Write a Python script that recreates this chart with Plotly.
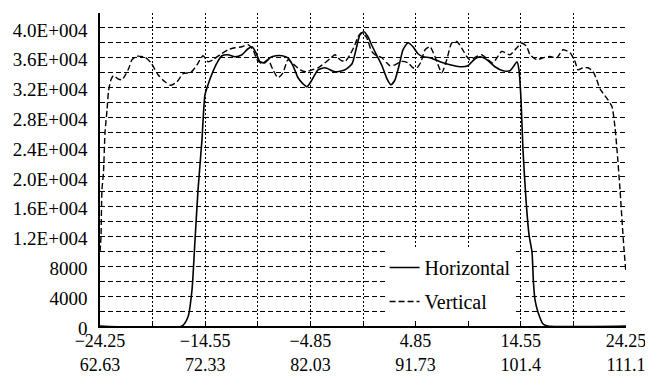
import plotly.graph_objects as go

# ---- data ----
h_x = [-24.25, -16.69, -16.14, -15.77, -15.49, -15.21, -14.85, -14.57, -14.29, -13.92, -13.46,
       -13.00, -12.45, -11.80, -11.16, -10.60, -10.23, -9.87, -9.50, -9.04, -8.58, -8.02, -7.47,
       -6.92, -6.45, -5.99, -5.53, -5.16, -4.70, -4.15, -3.50, -2.58, -1.66, -1.01, -0.65, -0.28,
       0.09, 0.46, 0.83, 1.29, 1.75, 2.21, 2.58, 2.95, 3.32, 3.69, 4.15, 4.61, 5.07, 5.53, 6.18,
       7.10, 8.02, 8.94, 9.68, 10.23, 10.79, 11.43, 12.17, 12.91, 13.55, 13.92, 14.20, 14.38,
       14.57, 14.75, 15.03, 15.31, 15.58, 15.72, 15.86, 16.13, 16.60, 17.06, 24.25]
h_y = [0, 0, 1200, 4800, 11550, 18270, 24980, 31030, 32370, 33850, 35320,
       36260, 36400, 36130, 36400, 37200, 37470, 36670, 35460, 35320, 35990, 36260, 36260,
       35990, 34920, 33310, 32500, 32100, 33040, 34380, 34650, 34110, 34380, 35190, 37070, 39080,
       39490, 38810, 37610, 36260, 34920, 33170, 32370, 33040, 34920, 37070, 38010, 37470, 36530, 36130, 35990,
       35460, 35050, 34790, 34920, 35730, 36130, 35730, 34790, 34250, 34250, 34920, 35460, 34380,
       30350, 23640, 16920, 12220, 9940, 5780, 3490, 1880, 270, 0, 0]

v_x = [-24.25, -24.16, -24.07, -23.93, -23.79, -23.60, -23.47, -23.24, -23.01, -22.59, -22.22,
       -21.85, -21.58, -21.30, -20.84, -20.10, -19.55, -18.90, -18.26, -17.70, -17.15, -16.60,
       -15.86, -15.31, -14.75, -14.29, -13.83, -13.19, -12.45, -11.80, -11.16, -10.60, -10.14,
       -9.77, -9.31, -8.76, -8.30, -7.84, -7.38, -6.92, -6.45, -5.81, -5.26, -4.70, -4.15, -3.50,
       -2.95, -2.58, -2.12, -1.66, -1.20, -0.74, -0.46, -0.12, 0.34, 0.80, 1.11, 1.73, 2.19, 2.49,
       2.95, 3.57, 4.15, 4.61, 4.98, 5.35, 5.72, 6.18, 6.64, 7.26, 7.72, 8.18, 8.64, 9.10, 9.56,
       9.86, 10.48, 10.94, 11.52, 11.98, 12.35, 12.79, 13.55, 14.17, 14.63, 15.09, 15.40, 16.02,
       16.60, 17.24, 17.86, 18.44, 19.09, 19.55, 19.82, 20.28, 20.75, 21.21, 21.55, 21.85, 22.13,
       22.59, 22.96, 23.23, 23.42, 23.70, 23.88, 24.07, 24.25]
v_y = [9940, 11950, 18270, 20550, 25920, 29010, 31430, 33040, 33580, 33170, 33040,
       33850, 34650, 35730, 36200, 36060, 35320, 33710, 32770, 32300, 32770, 33850,
       34050, 35050, 36260, 35460, 35730, 36400, 37070, 37340, 37470, 37740, 37070,
       35730, 35190, 35730, 34380, 33310, 33980, 35730, 35190, 34380, 34110, 34380, 34650, 35320,
       35990, 36400, 35730, 35500, 36400, 37740, 38810, 39350, 38680, 36840, 36400, 35990, 35320, 34920,
       35050, 35500, 35320, 34650, 34650, 35460, 37070, 37470, 36130, 33980, 35730, 37970, 38180, 37300, 36170,
       35730, 36170, 36400, 35730, 35280, 35990, 36840, 36400, 37300, 37970, 37510, 36400, 35730,
       35990, 36170, 35990, 37070, 36670, 35500, 34380, 34650, 34650, 34160, 33040, 31830, 31240,
       30350, 29410, 26730, 23650, 18270, 14240, 10210, 7120]

x_tick_vals = [-24.25, -19.40, -14.55, -9.70, -4.85, 0.0, 4.85, 9.70, 14.55, 19.40, 24.25]
x_tick_top = ["\u221224.25", "", "\u221214.55", "", "\u22124.85", "", "4.85", "", "14.55", "", "24.25"]
x_tick_bottom = ["62.63", "", "72.33", "", "82.03", "", "91.73", "", "101.4", "", "111.1"]

y_tick_vals = [0, 2000, 4000, 6000, 8000, 10000, 12000, 14000, 16000, 18000, 20000,
               22000, 24000, 26000, 28000, 30000, 32000, 34000, 36000, 38000, 40000, 42000]
y_tick_text = ["0", "", "4000", "", "8000", "", "1.2E+004", "", "1.6E+004", "", "2.0E+004",
               "", "2.4E+004", "", "2.8E+004", "", "3.2E+004", "", "3.6E+004", "", "4.0E+004", ""]

x_ticktext = [t if t == "" else t + "<br>" + b for t, b in zip(x_tick_top, x_tick_bottom)]

FONT = "Liberation Serif"

fig = go.Figure()
fig.add_trace(go.Scatter(x=h_x, y=h_y, mode="lines", name="Horizontal",
                         legendgroup="h",
                         line=dict(color="black", width=1.6, shape="spline", smoothing=0.6)))
fig.add_trace(go.Scatter(x=v_x, y=v_y, mode="lines", name="Vertical",
                         legendgroup="v",
                         line=dict(color="black", width=1.4, dash="6px,3px",
                                   shape="spline", smoothing=0.6)))

# the page body adds an 8px offset, so the figure is sized 8px smaller
fig.update_layout(
    width=645, height=370,
    margin=dict(l=92, r=27, t=5, b=52),
    paper_bgcolor="white", plot_bgcolor="white",
    font=dict(family=FONT, size=19, color="black"),
    showlegend=True,
    legend=dict(x=0.541, y=0.249, xanchor="left", yanchor="top",
                bgcolor="white", borderwidth=0,
                font=dict(family=FONT, size=20, color="black"),
                traceorder="grouped", tracegroupgap=5),
)

fig.update_xaxes(
    range=[-24.25, 24.25], tickmode="array", tickvals=x_tick_vals, ticktext=x_ticktext,
    showgrid=True, gridcolor="black", gridwidth=1, griddash="2px,2px",
    zeroline=False, showline=True, linecolor="black", linewidth=1.5,
    ticks="inside", ticklen=5, tickcolor="black", tickangle=0, ticklabelstandoff=-2,
    tickfont=dict(family=FONT, size=18, color="black"), automargin=False,
)
fig.update_yaxes(
    range=[0, 42000], tickmode="array", tickvals=y_tick_vals, ticktext=y_tick_text,
    showgrid=True, gridcolor="black", gridwidth=1, griddash="5px,3px",
    zeroline=False, showline=True, linecolor="black", linewidth=1.5,
    ticks="", ticklabelstandoff=7, ticklabelshift=2,
    tickfont=dict(family=FONT, size=19, color="black"), automargin=False,
)

fig.write_html("out.html")
